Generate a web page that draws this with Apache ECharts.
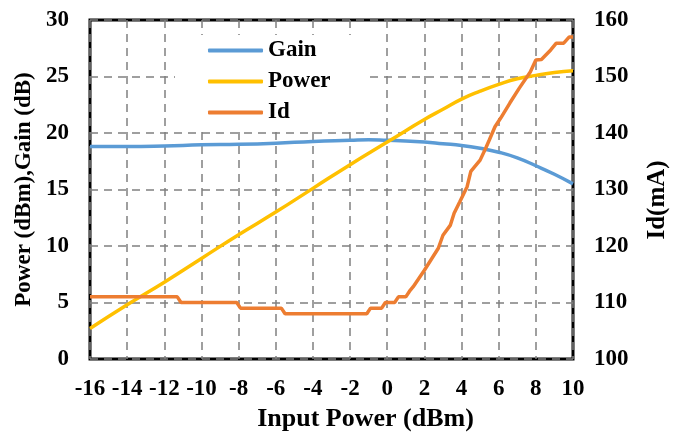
<!DOCTYPE html>
<html><head><meta charset="utf-8">
<script src="https://cdn.jsdelivr.net/npm/echarts@6/dist/echarts.min.js"></script>
<style>html,body{margin:0;padding:0;background:#fff}#c{width:680px;height:433px}</style>
</head><body><div id="c"></div>
<script>
const xTicks = [-16,-14,-12,-10,-8,-6,-4,-2,0,2,4,6,8,10];
const gainX = [-16,-14,-12,-10,-8,-6,-4,-2,-1,0,1,2,3,4,5,6,7,8,9,10];
const gainY = [18.8,18.8,18.85,18.95,19.0,19.1,19.25,19.35,19.4,19.35,19.3,19.2,19.05,18.9,18.65,18.3,17.8,17.1,16.35,15.5];
const powerX = [-16,-14,-12,-10,-8,-6,-4,-2,0,1,2,3,4,5,6,7,8,9,10];
const powerY = [2.7,4.8,6.8,8.9,11.0,13.0,15.1,17.2,19.2,20.2,21.2,22.1,23.0,23.7,24.3,24.8,25.1,25.35,25.5];
const idX = [-16,-11.3,-11.1,-8.1,-7.9,-5.7,-5.5,-1.1,-0.9,-0.3,-0.1,0.4,0.6,1.0,1.2,1.4,2.0,2.75,3.0,3.4,3.6,3.9,4.3,4.5,5.0,5.3,5.5,5.8,6.1,6.6,7.1,7.7,8.0,8.3,8.8,9.1,9.5,9.8,10];
const idY = [111,111,110,110,109,109,108,108,109,109,110,110,111,111,112,112.8,115.7,119.6,121.9,123.7,125.8,127.8,130.5,133.2,135.2,137.3,138.8,141.1,142.6,145.3,147.9,150.8,152.9,153,154.7,155.9,155.9,157,157];

const zip = (a,b)=>a.map((v,i)=>[v,b[i]]);
const F = '"Liberation Serif", "Times New Roman", serif';
const chart = echarts.init(document.getElementById('c'), null, {renderer:'canvas'});
const dash = {type:[8,6],color:'#808080',width:1.5};
const lbl = {fontFamily:F,fontWeight:'bold',fontSize:23,color:'#000'};
chart.setOption({
  animation:false,
  grid:{left:90,right:107,top:20,bottom:74,show:true,borderColor:'#000',borderWidth:3,backgroundColor:'transparent',
    outerBoundsMode:'none',containLabel:false},
  legend:{orient:'vertical',left:175,top:35,padding:[4,38,3,33],backgroundColor:'#fff',
    itemWidth:55,itemHeight:4,itemGap:8,icon:'roundRect',
    textStyle:{fontFamily:F,fontWeight:'bold',fontSize:23,color:'#000'},
    data:['Gain','Power','Id']},
  xAxis:{type:'value',min:-16,max:10,interval:2,
    name:'Input Power (dBm)',nameLocation:'middle',nameGap:46,
    nameTextStyle:{fontFamily:F,fontWeight:'bold',fontSize:26,color:'#000',padding:[0,0,0,68]},
    axisLine:{show:false},axisTick:{show:false},
    axisLabel:Object.assign({margin:19,customValues:xTicks},lbl),
    splitLine:{show:true,lineStyle:dash}},
  yAxis:[
    {type:'value',min:0,max:30,interval:5,position:'left',
      name:'Power (dBm),Gain (dB)',nameLocation:'middle',nameGap:54,
      nameTextStyle:{fontFamily:F,fontWeight:'bold',fontSize:23,color:'#000'},
      axisLine:{show:false},axisTick:{show:false},
      axisLabel:Object.assign({margin:21},lbl),
      splitLine:{show:true,lineStyle:dash}},
    {type:'value',min:100,max:160,interval:10,position:'right',
      name:'Id(mA)',nameLocation:'middle',nameGap:72,nameRotate:90,
      nameTextStyle:{fontFamily:F,fontWeight:'bold',fontSize:25,color:'#000',padding:[0,21,0,0]},
      axisLine:{show:false},axisTick:{show:false},
      axisLabel:Object.assign({margin:21},lbl),
      splitLine:{show:false}}
  ],
  series:[
    {name:'Gain',type:'line',yAxisIndex:0,showSymbol:false,symbol:'none',smooth:true,
      data:zip(gainX,gainY),lineStyle:{color:'#5B9BD5',width:3.5},itemStyle:{color:'#5B9BD5'}},
    {name:'Power',type:'line',yAxisIndex:0,showSymbol:false,symbol:'none',smooth:true,
      data:zip(powerX,powerY),lineStyle:{color:'#FFC000',width:3.5},itemStyle:{color:'#FFC000'}},
    {name:'Id',type:'line',yAxisIndex:1,showSymbol:false,symbol:'none',
      data:zip(idX,idY),lineStyle:{color:'#ED7D31',width:3.5},itemStyle:{color:'#ED7D31'}}
  ]
});
</script></body></html>
